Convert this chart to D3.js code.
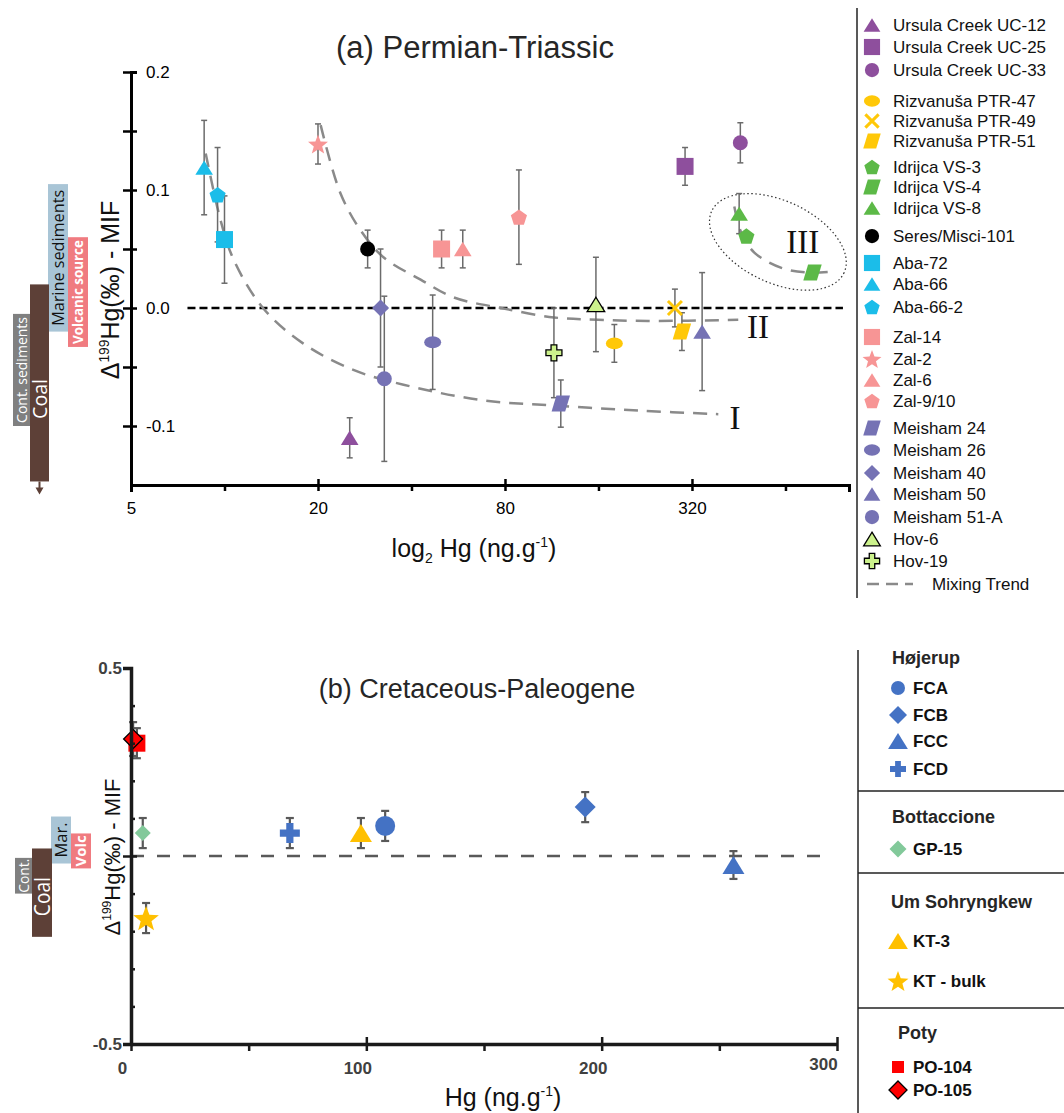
<!DOCTYPE html>
<html>
<head>
<meta charset="utf-8">
<script src="https://cdn.jsdelivr.net/npm/d3@7"></script>
<style>
body { margin: 0; background: #fff; }
svg { display: block; font-family: "Open Sans", sans-serif; }
</style>
</head>
<body>
<svg id="chart" width="1064" height="1113"></svg>
<script>
// ---- (a) Permian-Triassic samples ----
const ptSamples = ["Ursula Creek UC-12", "Ursula Creek UC-25", "Ursula Creek UC-33",
    "Rizvanuša PTR-47", "Rizvanuša PTR-49", "Rizvanuša PTR-51",
    "Idrijca VS-3", "Idrijca VS-4", "Idrijca VS-8", "Seres/Misci-101",
    "Aba-72", "Aba-66", "Aba-66-2", "Zal-14", "Zal-2", "Zal-6", "Zal-9/10",
    "Meisham 24", "Meisham 26", "Meisham 40", "Meisham 50", "Meisham 51-A", "Hov-6", "Hov-19"];
const ptHg = [25.3, 304, 458, 180, 282, 297, 479, 782, 454, 28.9,
    10.0, 8.6, 9.5, 50, 20, 58.5, 88.7, 121, 46.8, 31.8, 345, 32.7, 157, 115];
const ptMif = [-0.11, 0.12, 0.14, -0.03, 0.0, -0.02, 0.061, 0.03, 0.08, 0.05,
    0.058, 0.119, 0.096, 0.05, 0.139, 0.05, 0.077, -0.081, -0.029, 0.0, -0.02, -0.06, 0.003, -0.038];
const ptErr = [0.017, 0.016, 0.017, 0.016, 0.016, 0.016, 0, 0, 0.017, 0.016,
    0.037, 0.04, 0.04, 0.016, 0.017, 0.016, 0.04, 0.02, 0.04, 0.05, 0.05, 0.07, 0.04, 0.038];

// mixing trends
const trendIHg = [8.7, 9.7, 10.7, 13.3, 17.9, 26, 37.7, 67, 121, 219, 389];
const trendIMif = [0.131, 0.075, 0.041, 0.0, -0.03, -0.0525, -0.065, -0.078, -0.083, -0.087, -0.09];
const trendIIHg = [20.4, 23.6, 27.4, 32.5, 42.8, 54.7, 77.6, 115, 159.5, 231, 451];
const trendIIMif = [0.155, 0.0975, 0.066, 0.043, 0.024, 0.009, 0.0, -0.008, -0.01, -0.011, -0.01];
const trendIIIHg = [438, 461, 508, 621, 759, 920];
const trendIIIMif = [0.086, 0.064, 0.047, 0.034, 0.03, 0.031];

// ---- (b) Cretaceous-Paleogene samples ----
const kpgSamples = ["FCA", "FCB", "FCC", "FCD", "GP-15", "KT-3", "KT - bulk", "PO-104", "PO-105"];
const kpgHg = [108, 193, 256, 67.5, 5, 97.7, 6.4, 2.5, 0.9];
const kpgMif = [0.08, 0.13, -0.024, 0.061, 0.061, 0.061, -0.165, 0.30, 0.311];
const kpgErr = [0.04, 0.04, 0.037, 0.04, 0.04, 0.04, 0.04, 0.04, 0.045];

// source ranges (side bars)
const sourceNames = ["Marine sediments", "Volcanic source", "Coal", "Cont. sediments"];
const sourceShort = ["Mar.", "Volc", "Coal", "Cont."];
const sourceHigh = [0.105, 0.06, 0.02, -0.005];
const sourceLow = [-0.02, -0.033, -0.215, -0.1];

// styles
const ptStyle = {
    "Ursula Creek UC-12": ["triangle", "#8e4f9d"], "Ursula Creek UC-25": ["square", "#8e4f9d"], "Ursula Creek UC-33": ["circle", "#8e4f9d"],
    "Rizvanuša PTR-47": ["ellipse", "#ffc808"], "Rizvanuša PTR-49": ["x", "#ffc808"], "Rizvanuša PTR-51": ["para", "#ffc808"],
    "Idrijca VS-3": ["pentagon", "#5cb947"], "Idrijca VS-4": ["para", "#5cb947"], "Idrijca VS-8": ["triangle", "#5cb947"],
    "Seres/Misci-101": ["circle", "#000"],
    "Aba-72": ["square", "#1bbde9"], "Aba-66": ["triangle", "#1bbde9"], "Aba-66-2": ["pentagon", "#1bbde9"],
    "Zal-14": ["square", "#f79595"], "Zal-2": ["star", "#f79595"], "Zal-6": ["triangle", "#f79595"], "Zal-9/10": ["pentagon", "#f79595"],
    "Meisham 24": ["para", "#7572b4"], "Meisham 26": ["ellipse", "#7572b4"], "Meisham 40": ["diamond", "#7572b4"],
    "Meisham 50": ["triangle", "#7572b4"], "Meisham 51-A": ["circle", "#7572b4"],
    "Hov-6": ["triangle", "#ccf28c"], "Hov-19": ["plus", "#ccf28c"]
};
const ptSize = { triangle: 8, square: 8.5, circle: 7.5, ellipse: 8.5, pentagon: 8.5, star: 10.5, diamond: 8.5, para: 8, plus: 8, x: 7 };
const kpgStyle = {
    "FCA": ["circle", "#4472c4", 10], "FCB": ["diamond", "#4472c4", 10.5], "FCC": ["triangle", "#4472c4", 10],
    "FCD": ["plus", "#4472c4", 10], "GP-15": ["diamond", "#82c99a", 8], "KT-3": ["triangle", "#ffc000", 10],
    "KT - bulk": ["star", "#ffc000", 13.5], "PO-104": ["square", "#ff0000", 8.5], "PO-105": ["diamond", "#ff0000", 9.5]
};

function shapePath(type, s) {
    const poly = arr => "M" + arr.map(p => p[0].toFixed(2) + "," + p[1].toFixed(2)).join("L") + "Z";
    switch (type) {
        case "circle": return `M${-s},0A${s},${s} 0 1,0 ${s},0A${s},${s} 0 1,0 ${-s},0Z`;
        case "ellipse": return `M${-s},0A${s},${s * 0.7} 0 1,0 ${s},0A${s},${s * 0.7} 0 1,0 ${-s},0Z`;
        case "square": return poly([[-s, -s], [s, -s], [s, s], [-s, s]]);
        case "triangle": return poly([[0, -s * 0.9], [s * 1.1, s * 0.9], [-s * 1.1, s * 0.9]]);
        case "diamond": return poly([[0, -s], [s, 0], [0, s], [-s, 0]]);
        case "pentagon": return poly(d3.range(5).map(i => {
            let a = -Math.PI / 2 + i * 2 * Math.PI / 5; return [s * Math.cos(a), s * Math.sin(a) + s * 0.1]; }));
        case "star": return poly(d3.range(10).map(i => {
            let a = -Math.PI / 2 + i * Math.PI / 5, r = i % 2 ? s * 0.42 : s; return [r * Math.cos(a), r * Math.sin(a) + s * 0.1]; }));
        case "para": return poly([[-s * 0.55, -s], [s * 1.15, -s], [s * 0.55, s], [-s * 1.15, s]]);
        case "plus": { let w = s * 0.36;
            return poly([[-w, -s], [w, -s], [w, -w], [s, -w], [s, w], [w, w], [w, s], [-w, s], [-w, w], [-s, w], [-s, -w], [-w, -w]]); }
        case "x": return `M${-s},${-s}L${s},${s}M${s},${-s}L${-s},${s}`;
    }
}

function marker(g, type, color, s, outline) {
    let p = g.append("path").attr("d", shapePath(type, s));
    if (type === "x") p.attr("fill", "none").attr("stroke", color).attr("stroke-width", 3);
    else p.attr("fill", color).attr("stroke", outline || "none").attr("stroke-width", outline ? 1.3 : 0);
    return p;
}

const svg = d3.select("#chart");

// ===================== panel (a) =====================
const xA = d3.scaleLog().base(2).domain([5, 1025]).range([131, 849]);
const yA = d3.scaleLinear().domain([-0.15, 0.2]).range([485, 72]);

svg.append("text").attr("x", 475).attr("y", 58).attr("text-anchor", "middle")
    .style("font-family", "Liberation Sans, Arial, sans-serif").style("font-size", "31px").attr("fill", "#262626")
    .text("(a) Permian-Triassic");

// zero line
svg.append("line").attr("x1", xA(7.6)).attr("x2", xA(980)).attr("y1", yA(0)).attr("y2", yA(0))
    .attr("stroke", "#000").attr("stroke-width", 2.5).attr("stroke-dasharray", "8,4");

// mixing trends
const trendLine = d3.line().x(d => xA(d[0])).y(d => yA(d[1])).curve(d3.curveCatmullRom);
[[trendIHg, trendIMif], [trendIIHg, trendIIMif], [trendIIIHg, trendIIIMif]].forEach(t => {
    svg.append("path").datum(d3.zip(t[0], t[1])).attr("d", trendLine)
        .attr("fill", "none").attr("stroke", "#8a8a8a").attr("stroke-width", 2.5).attr("stroke-dasharray", "14,9");
});
svg.append("ellipse").attr("cx", 0).attr("cy", 0).attr("rx", 73).attr("ry", 41)
    .attr("transform", `translate(${xA(605)},${yA(0.056)}) rotate(25)`)
    .attr("fill", "none").attr("stroke", "#333").attr("stroke-width", 1.2).attr("stroke-dasharray", "1.5,2.5");
[["I", 440, -0.093], ["II", 522, -0.016], ["III", 728, 0.056]].forEach(r => {
    svg.append("text").attr("x", xA(r[1])).attr("y", yA(r[2]) + 11).attr("text-anchor", "middle")
        .style("font-family", "Liberation Serif, Times New Roman, serif").style("font-size", "33px").attr("fill", "#111").text(r[0]);
});

// error bars + points
const ptData = ptSamples.map((s, i) => ({ name: s, hg: ptHg[i], mif: ptMif[i], err: ptErr[i] }));
const errA = svg.append("g").attr("stroke", "#6b6b6b").attr("stroke-width", 1.5);
ptData.filter(d => d.err > 0).forEach(d => {
    let x = xA(d.hg), y1 = yA(d.mif + d.err), y2 = yA(d.mif - d.err);
    errA.append("line").attr("x1", x).attr("x2", x).attr("y1", y1).attr("y2", y2);
    errA.append("line").attr("x1", x - 3).attr("x2", x + 3).attr("y1", y1).attr("y2", y1);
    errA.append("line").attr("x1", x - 3).attr("x2", x + 3).attr("y1", y2).attr("y2", y2);
});
ptData.forEach(d => {
    let st = ptStyle[d.name];
    let g = svg.append("g").attr("transform", `translate(${xA(d.hg)},${yA(d.mif)})`);
    marker(g, st[0], st[1], ptSize[st[0]], d.name.startsWith("Hov") ? "#000" : null);
});

// axes (a)
const yAxisA = d3.axisRight(yA).tickValues(d3.range(-2, 5).map(i => i * 0.05)).tickSizeOuter(0).tickSize(6).tickPadding(9)
    .tickFormat(d => { let k = Math.round(d * 100); return k % 10 === 0 ? (k < 0 ? "-" : "") + Math.abs(k / 100).toFixed(1) : ""; });
svg.append("g").attr("transform", "translate(131,0)").call(yAxisA)
    .call(g => g.select(".domain").attr("stroke-width", 3))
    .call(g => g.selectAll(".tick line").attr("x1", -8).attr("x2", 6).attr("stroke-width", 2.5))
    .call(g => g.selectAll(".tick text").style("font-size", "17px").attr("fill", "#000"));
const xAxisA = d3.axisBottom(xA).tickValues([5, 10, 20, 40, 80, 160, 320, 640]).tickSize(6).tickSizeOuter(7).tickPadding(11)
    .tickFormat(d => [5, 20, 80, 320].includes(d) ? d : "");
svg.append("g").attr("transform", "translate(0,485)").call(xAxisA)
    .call(g => g.select(".domain").attr("stroke-width", 3))
    .call(g => g.selectAll(".tick line").attr("stroke-width", 2.5).attr("y1", d => [5, 20, 80, 320].includes(d) ? -6 : 0))
    .call(g => g.selectAll(".tick text").style("font-size", "17px").attr("fill", "#000")
        .style("font-family", "Liberation Sans Narrow, Liberation Sans, sans-serif"));

// axis titles (a)
const xlA = svg.append("text").attr("x", 474).attr("y", 557).attr("text-anchor", "middle")
    .style("font-family", "Liberation Sans Narrow, Liberation Sans, sans-serif").style("font-size", "25px").attr("fill", "#111");
xlA.append("tspan").text("log");
xlA.append("tspan").attr("dy", 6).style("font-size", "14px").text("2");
xlA.append("tspan").attr("dy", -6).text(" Hg (ng.g");
xlA.append("tspan").attr("dy", -10).style("font-size", "14px").text("-1");
xlA.append("tspan").attr("dy", 10).text(")");

function yTitle(cx, cy, fs) {
    const t = svg.append("text").attr("transform", `translate(${cx},${cy}) rotate(-90)`).attr("text-anchor", "middle")
        .style("font-family", "Liberation Sans, Arial, sans-serif").style("font-size", fs + "px").attr("fill", "#111");
    t.append("tspan").text("Δ");
    t.append("tspan").attr("dy", -fs * 0.4).style("font-size", (fs * 0.55) + "px").text("199");
    t.append("tspan").attr("dy", fs * 0.4).text("Hg(‰) - MIF");
}
yTitle(119, 290, 25);

// source bars
function sourceBars(yScale, xs, labels, fonts, yMin, arrow) {
    const fills = ["#a9c5d6", "#f07b80", "#5d4037", "#808080"];
    const tcol = ["#111", "#fff", "#fff", "#fff"];
    sourceNames.forEach((n, i) => {
        let top = yScale(sourceHigh[i]), bot = yScale(Math.max(sourceLow[i], yMin));
        svg.append("rect").attr("x", xs[i][0]).attr("width", xs[i][1] - xs[i][0]).attr("y", top).attr("height", bot - top).attr("fill", fills[i]);
        let cx = (xs[i][0] + xs[i][1]) / 2, cy = (top + bot) / 2 + (i === 2 ? fonts[i][3] : 0);
        svg.append("text").attr("transform", `translate(${cx},${cy}) rotate(-90)`).attr("text-anchor", "middle").attr("dy", "0.36em")
            .style("font-size", fonts[i][0] + "px").style("font-weight", fonts[i][1]).attr("fill", tcol[i])
            .attr("textLength", fonts[i][2]).attr("lengthAdjust", "spacingAndGlyphs").text(labels[i]);
    });
    if (arrow) {
        let bx = (xs[2][0] + xs[2][1]) / 2, by = yScale(yMin);
        svg.append("path").attr("d", `M${bx - 1},${by}h2v6h3l-4,7l-4,-7h3z`).attr("fill", "#5d4037");
    }
}
sourceBars(yA, [[48, 68], [68, 88], [30, 49], [13, 30]], sourceNames,
    [[16, 400, 136, 0], [14, 700, 104, 0], [20, 400, 40, 16], [14, 400, 106, 0]], -0.147, true);

// legend (a)
svg.append("line").attr("x1", 857).attr("x2", 857).attr("y1", 8).attr("y2", 598).attr("stroke", "#222").attr("stroke-width", 1.5);
const legendAY = [25, 47, 70, 101, 121, 141, 167, 187, 208, 236, 263, 284, 307, 337, 359, 380, 401, 428, 450, 473, 494, 517, 539, 561];
ptSamples.forEach((s, i) => {
    let st = ptStyle[s];
    let g = svg.append("g").attr("transform", `translate(872,${legendAY[i]})`);
    marker(g, st[0], st[1], ptSize[st[0]] * 0.95, s.startsWith("Hov") ? "#000" : null);
    svg.append("text").attr("x", 893).attr("y", legendAY[i]).attr("dy", "0.35em")
        .style("font-family", "Liberation Sans, Arial, sans-serif").style("font-size", "17px").attr("fill", "#111").text(s);
});
svg.append("line").attr("x1", 867).attr("x2", 913).attr("y1", 584).attr("y2", 584)
    .attr("stroke", "#8a8a8a").attr("stroke-width", 2.5).attr("stroke-dasharray", "12,7");
svg.append("text").attr("x", 932).attr("y", 584).attr("dy", "0.35em")
    .style("font-family", "Liberation Sans, Arial, sans-serif").style("font-size", "17px").attr("fill", "#111").text("Mixing Trend");

// ===================== panel (b) =====================
const xB = d3.scaleLinear().domain([0, 300]).range([131, 837]);
const yB = d3.scaleLinear().domain([-0.5, 0.5]).range([1044, 668]);

svg.append("text").attr("x", 477).attr("y", 698).attr("text-anchor", "middle")
    .style("font-family", "Liberation Sans, Arial, sans-serif").style("font-size", "27px").attr("fill", "#262626")
    .text("(b) Cretaceous-Paleogene");

svg.append("line").attr("x1", xB(0)).attr("x2", xB(298)).attr("y1", yB(0)).attr("y2", yB(0))
    .attr("stroke", "#595959").attr("stroke-width", 2.5).attr("stroke-dasharray", "13,13");

const kpgData = kpgSamples.map((s, i) => ({ name: s, hg: kpgHg[i], mif: kpgMif[i], err: kpgErr[i] }));
const errB = svg.append("g").attr("stroke", "#595959").attr("stroke-width", 2.2);
kpgData.forEach(d => {
    let x = xB(d.hg), y1 = yB(d.mif + d.err), y2 = yB(d.mif - d.err);
    errB.append("line").attr("x1", x).attr("x2", x).attr("y1", y1).attr("y2", y2);
    errB.append("line").attr("x1", x - 4).attr("x2", x + 4).attr("y1", y1).attr("y2", y1);
    errB.append("line").attr("x1", x - 4).attr("x2", x + 4).attr("y1", y2).attr("y2", y2);
});
kpgData.forEach(d => {
    let st = kpgStyle[d.name];
    let g = svg.append("g").attr("transform", `translate(${xB(d.hg)},${yB(d.mif)})`);
    marker(g, st[0], st[1], st[2], d.name === "PO-105" ? "#000" : null);
});

// axes (b)
const yAxisB = d3.axisLeft(yB).tickValues(d3.range(-5, 6).map(i => i / 10)).tickSizeOuter(0).tickSize(8).tickPadding(2)
    .tickFormat(d => Math.abs(d) === 0.5 ? (d < 0 ? "-" : "") + "0.5" : "");
svg.append("g").attr("transform", "translate(131,0)").call(yAxisB)
    .call(g => g.select(".domain").attr("stroke-width", 3.5).attr("stroke", "#1a1a1a"))
    .call(g => g.selectAll(".tick line").attr("stroke-width", 2.5).attr("stroke", "#1a1a1a")
        .attr("x1", d => Math.abs(d) === 0.5 ? -8 : (Math.abs(d) < 1e-9 ? -8 : 0))
        .attr("x2", d => Math.abs(d) === 0.5 ? 0 : (Math.abs(d) < 1e-9 ? 6 : 4)))
    .call(g => g.selectAll(".tick text").attr("x", -9).style("font-size", "17px").style("font-weight", 700)
        .style("font-family", "Liberation Sans Narrow, Liberation Sans, sans-serif").attr("fill", "#404040"));
const xAxisB = d3.axisBottom(xB).tickValues([0, 50, 100, 150, 200, 250, 300]).tickSize(7).tickSizeOuter(0).tickPadding(11)
    .tickFormat(d => d % 100 === 0 ? d : "");
svg.append("g").attr("transform", "translate(0,1044)").call(xAxisB)
    .call(g => g.select(".domain").attr("stroke-width", 3.5).attr("stroke", "#1a1a1a"))
    .call(g => g.selectAll(".tick line").attr("stroke-width", 2.5).attr("stroke", "#1a1a1a")
        .attr("y1", d => d % 100 === 0 && d > 0 ? -7 : 0))
    .call(g => g.selectAll(".tick text").attr("dx", d => d === 300 ? -14 : -9).attr("dy", d => d === 300 ? "0.45em" : "0.71em")
        .style("font-size", "17px").style("font-weight", 700)
        .style("font-family", "Liberation Sans Narrow, Liberation Sans, sans-serif").attr("fill", "#404040"));

const xlB = svg.append("text").attr("x", 503).attr("y", 1106).attr("text-anchor", "middle")
    .style("font-family", "Liberation Sans Narrow, Liberation Sans, sans-serif").style("font-size", "25px").attr("fill", "#111");
xlB.append("tspan").text("Hg (ng.g");
xlB.append("tspan").attr("dy", -10).style("font-size", "14px").text("-1");
xlB.append("tspan").attr("dy", 10).text(")");
yTitle(120, 857, 22);

sourceBars(yB, [[51, 71], [71, 91], [32, 52], [15, 32]], sourceShort,
    [[16, 400, 35, 0], [15, 700, 31, 0], [21, 400, 39, 4], [14, 400, 34, 0]], -0.5, false);

// legend (b)
svg.append("line").attr("x1", 858).attr("x2", 858).attr("y1", 650).attr("y2", 1113).attr("stroke", "#222").attr("stroke-width", 1.5);
[791, 873, 1008].forEach(y => svg.append("line").attr("x1", 858).attr("x2", 1064).attr("y1", y).attr("y2", y)
    .attr("stroke", "#222").attr("stroke-width", 1.5));
const legendBHeads = [["Højerup", 892, 658], ["Bottaccione", 892, 817], ["Um Sohryngkew", 891, 902], ["Poty", 898, 1033]];
legendBHeads.forEach(h => svg.append("text").attr("x", h[1]).attr("y", h[2]).attr("dy", "0.35em")
    .style("font-family", "Liberation Sans, Arial, sans-serif").style("font-size", "18px").style("font-weight", 700)
    .attr("fill", "#262626").text(h[0]));
const legendBY = { "FCA": 688, "FCB": 715, "FCC": 741, "FCD": 769, "GP-15": 849, "KT-3": 941, "KT - bulk": 981, "PO-104": 1067, "PO-105": 1090 };
const legendBSize = { "FCA": 7, "FCB": 9, "FCC": 9, "FCD": 8, "GP-15": 8.5, "KT-3": 9, "KT - bulk": 11, "PO-104": 6, "PO-105": 9 };
kpgSamples.forEach(s => {
    let st = kpgStyle[s], y = legendBY[s];
    let g = svg.append("g").attr("transform", `translate(898,${y})`);
    marker(g, st[0], st[1], legendBSize[s], s === "PO-105" ? "#000" : null);
    svg.append("text").attr("x", 913).attr("y", y).attr("dy", "0.35em")
        .style("font-family", "Liberation Sans, Arial, sans-serif").style("font-size", "17px").style("font-weight", 700)
        .attr("fill", "#111").text(s);
});
</script>
</body>
</html>
